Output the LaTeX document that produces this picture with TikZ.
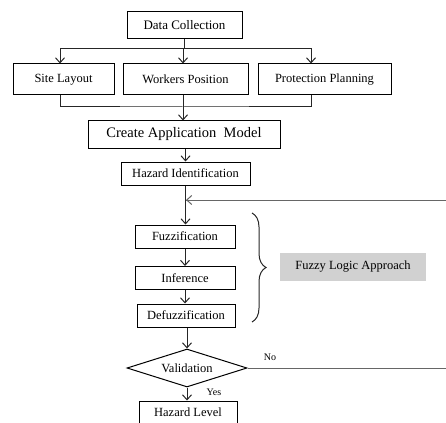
\documentclass[tikz,border=0pt]{standalone}
\usepackage{fontspec}
\setmainfont{Liberation Serif}
\usetikzlibrary{shapes.geometric,decorations.pathreplacing,arrows.meta}

\begin{document}
\begin{tikzpicture}[x=1pt,y=1pt,
    box/.style={draw, line width=1pt, inner sep=0pt, font=\fontsize{12.5}{14}\selectfont},
    decision/.style={draw, diamond, aspect=3.2, line width=1pt, inner sep=0pt, minimum width=120pt, minimum height=38pt, font=\fontsize{12.5}{14}\selectfont},
    line/.style={line width=1pt, draw=black!85},
    arr/.style={line, -{Straight Barb[length=5pt,width=9pt,line width=1pt]}},
    small/.style={font=\fontsize{10}{12}\selectfont}]
    \useasboundingbox (0,0) rectangle (446,-422);
    \clip (0,0) rectangle (446,-422);

    % upper part: data sources
    \node[box, minimum width=115pt, minimum height=27pt, font=\fontsize{13}{15}\selectfont] (datacol) at (184.5,-25.5) {Data Collection};
    \node[box, minimum width=101pt, minimum height=31pt] (site) at (63.5,-79.5) {Site Layout};
    \node[box, minimum width=125pt, minimum height=31pt] (workers) at (185.5,-79.5) {Workers Position};
    \node[box, minimum width=133pt, minimum height=31pt] (protect) at (324.5,-79.5) {Protection Planning};
    \node[box, minimum width=192pt, minimum height=27pt, font=\fontsize{14.5}{16}\selectfont] (model) at (184,-134.5) {Create Application\ \ Model};
    \node[box, minimum width=129pt, minimum height=23pt] (hazid) at (185.5,-173.5) {Hazard\ Identification};

    % fuzzy steps
    \node[box, minimum width=100pt, minimum height=23pt] (fuzz) at (185,-236.5) {Fuzzification};
    \node[box, minimum width=100pt, minimum height=23pt] (infer) at (185,-278) {Inference};
    \node[box, minimum width=98pt, minimum height=23pt] (defuzz) at (186,-315.5) {Defuzzification};
    \node[decision] (valid) at (187,-368) {Validation};
    \node[box, minimum width=98pt, minimum height=23pt] (hazlev) at (188,-412.5) {Hazard\ Level};
    \node[fill=black!18, minimum width=146pt, minimum height=28pt, inner sep=0pt, font=\fontsize{12.5}{14}\selectfont] (fuzzy) at (353,-267) {Fuzzy\ Logic Approach};

    \coordinate (split) at (184,-49);
    \coordinate (join) at (183,-107);
    \coordinate (back) at (186,-200);
    \coordinate (edge) at (448,-368);

    % connectors
    \draw[line] (datacol.south -| split) -- (split);
    \draw[arr] (split) -| ([xshift=-3.5pt]site.north);
    \draw[arr] (split) -| ([xshift=-2.5pt]workers.north);
    \draw[arr] (split) -| ([xshift=-13.5pt]protect.north);
    \draw[line] ([xshift=-3.5pt]site.south) |- (join) -| ([xshift=-13.5pt]protect.south);
    \draw[line] ([xshift=-2.5pt]workers.south) -- (join);
    \draw[arr] (join) -- (model.north -| join);
    \draw[arr] (model.south -| hazid) -- (hazid.north);
    \draw[arr] (hazid.south) -- (fuzz.north -| hazid);
    \draw[arr] (fuzz.south) -- (infer.north);
    \draw[arr] (infer.south) -- (defuzz.north -| infer);
    \draw[arr] (defuzz.south -| valid) -- (valid.north);
    \draw[arr] (valid.south) -- (hazlev.north -| valid);
    \draw[line, draw=black!60] (valid.east) -- (edge) |- (back);
    \draw[arr, draw=black!60] (edge |- back) -- (back);
    \node[small] at (270,-357) {No};
    \node[small] at (214,-392) {Yes};

    % brace round the fuzzy steps
    \draw[line, decorate, decoration={brace, amplitude=14pt}] (252,-213) -- (252,-322);
\end{tikzpicture}
\end{document}
